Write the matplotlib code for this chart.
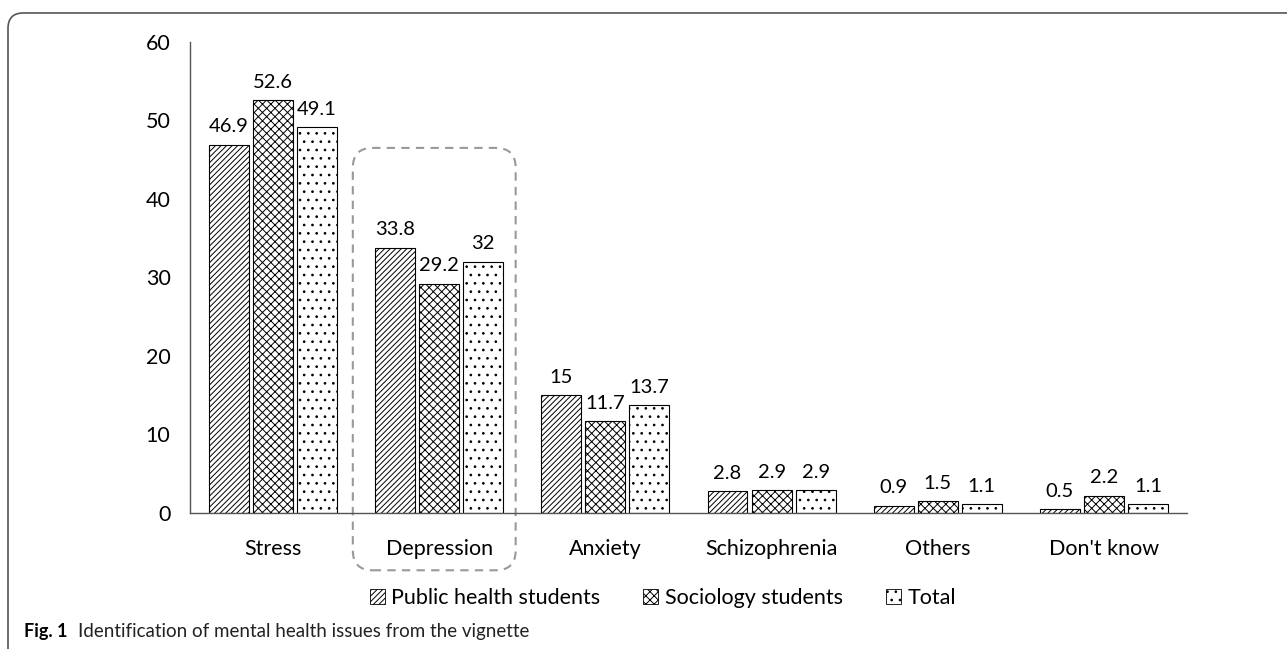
import matplotlib.pyplot as plt
from matplotlib.patches import FancyBboxPatch, Patch

plt.rcParams['font.family'] = ['Lato', 'DejaVu Sans']
plt.rcParams['hatch.linewidth'] = 0.7

categories = ['Stress', 'Depression', 'Anxiety', 'Schizophrenia', 'Others', "Don't know"]
public_health = [46.9, 33.8, 15, 2.8, 0.9, 0.5]
sociology = [52.6, 29.2, 11.7, 2.9, 1.5, 2.2]
total = [49.1, 32, 13.7, 2.9, 1.1, 1.1]
labels_ph = ['46.9', '33.8', '15', '2.8', '0.9', '0.5']
labels_so = ['52.6', '29.2', '11.7', '2.9', '1.5', '2.2']
labels_to = ['49.1', '32', '13.7', '2.9', '1.1', '1.1']

series = [
    ('Public health students', public_health, labels_ph, '//////'),
    ('Sociology students', sociology, labels_so, 'xxxx'),
    ('Total', total, labels_to, '..'),
]

fig = plt.figure(figsize=(12.87, 6.49), dpi=100)
ax = fig.add_axes([0.1476, 0.2096, 0.7747, 0.7258])

w = 0.24
step = 0.265
x = list(range(len(categories)))
for k, (name, vals, labs, hatch) in enumerate(series):
    pos = [i + (k - 1) * step for i in x]
    bars = ax.bar(pos, vals, width=w, facecolor='white', edgecolor='black',
                  linewidth=0.8, hatch=hatch, label=name)
    for b, t in zip(bars, labs):
        ax.text(b.get_x() + b.get_width() / 2, b.get_height() + 1.2, t,
                ha='center', va='bottom', fontsize=14.5)

ax.set_xlim(-0.5, 5.5)
ax.set_ylim(0, 60)
ax.set_yticks([0, 10, 20, 30, 40, 50, 60])
ax.set_xticks(x)
ax.set_xticklabels(categories)
ax.tick_params(axis='both', length=0, labelsize=15.5)
ax.tick_params(axis='x', pad=19)
ax.tick_params(axis='y', pad=14)
for s in ['top', 'right']:
    ax.spines[s].set_visible(False)
for s in ['left', 'bottom']:
    ax.spines[s].set_color('#555555')
    ax.spines[s].set_linewidth(1.0)

# dashed highlight around Depression
box = FancyBboxPatch((0.48, -7.3), 0.98, 53.8, boxstyle='round,pad=0.0,rounding_size=0.12',
                     mutation_aspect=21, fill=False, edgecolor='#999999',
                     linestyle=(0, (4, 3)), linewidth=1.5, clip_on=False)
ax.add_patch(box)

handles = [Patch(facecolor='white', edgecolor='black', hatch=h, linewidth=0.6, label=n)
           for n, _, _, h in series]
fig.legend(handles=handles, loc='center', bbox_to_anchor=(0.515, 0.079), ncol=3,
           frameon=False, fontsize=15.5, handlelength=0.7, handleheight=0.7,
           handletextpad=0.3, columnspacing=2.0)

# outer frame
frame = FancyBboxPatch((8 / 1287, -0.05), 1.1, 1.03, transform=fig.transFigure,
                       boxstyle='round,pad=0,rounding_size=0.012', fill=False,
                       edgecolor='#555555', linewidth=1.2, mutation_aspect=1.98)
fig.patches.append(frame)

fig.text(24 / 1287, 1 - 632 / 649, 'Fig. 1', fontsize=13, va='center', fontweight='bold')
fig.text(78 / 1287, 1 - 632 / 649, 'Identification of mental health issues from the vignette',
         fontsize=13.5, va='center', color='#222222')

fig.savefig('out.png', dpi=100)
